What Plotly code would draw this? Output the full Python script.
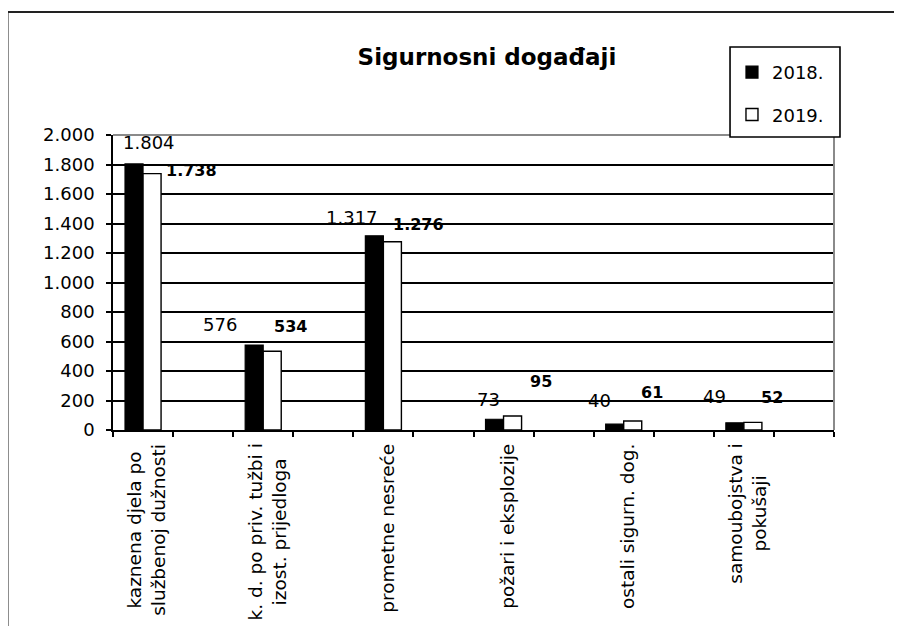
import plotly.graph_objects as go

# ---- data ----
categories = [
    "kaznena djela po<br>službenoj dužnosti",
    "k. d. po priv. tužbi i<br>izost. prijedloga",
    "prometne nesreće",
    "požari i eksplozije",
    "ostali sigurn. dog.",
    "samoubojstva i<br>pokušaji",
]
values_2018 = [1804, 576, 1317, 73, 40, 49]
values_2019 = [1738, 534, 1276, 95, 61, 52]
series_names = ["2018.", "2019."]
y_tick_values = [0, 200, 400, 600, 800, 1000, 1200, 1400, 1600, 1800, 2000]
chart_title = "Sigurnosni događaji"

# ---- presentation (pixel offsets of the value labels from the bar tops) ----
shift_2018 = [(15, 21), (-34, 21), (-22, 18), (-6, 20), (-15, 24), (-20, 26)]
shift_2019 = [(39, 3), (18, 25), (26, 17), (28, 34), (19, 29), (19, 25)]

FONT = "DejaVu Sans"
n = len(categories)
slot = [2 * i for i in range(n)]          # every other slot is empty, as in the original
bar_offset = 0.15                          # half a bar width in axis units

fig = go.Figure()
fig.add_trace(go.Bar(
    x=slot, y=values_2018, name=series_names[0],
    marker=dict(color="black", line=dict(color="black", width=1.2)),
    legendgroup="a",
))
fig.add_trace(go.Bar(
    x=slot, y=values_2019, name=series_names[1],
    marker=dict(color="white", line=dict(color="black", width=1.4)),
    legendgroup="b",
))


def fmt(v):
    return f"{v:,}".replace(",", ".")


annotations = []
for i in range(n):
    dx, dy = shift_2018[i]
    annotations.append(dict(
        x=slot[i] - bar_offset, y=values_2018[i], xref="x", yref="y",
        text=fmt(values_2018[i]), showarrow=False, xanchor="center", yanchor="middle",
        xshift=dx, yshift=dy, font=dict(family=FONT, size=18, color="black"),
    ))
    dx, dy = shift_2019[i]
    annotations.append(dict(
        x=slot[i] + bar_offset, y=values_2019[i], xref="x", yref="y",
        text="<b>" + fmt(values_2019[i]) + "</b>", showarrow=False,
        xanchor="center", yanchor="middle",
        xshift=dx, yshift=dy, font=dict(family=FONT, size=16, color="black"),
    ))
    annotations.append(dict(
        x=slot[i], y=-0.04, xref="x", yref="paper",
        text=categories[i], showarrow=False, textangle=-90, align="center",
        xanchor="center", yanchor="top", xshift=4,
        font=dict(family=FONT, size=18.5, color="black"),
    ))

shapes = [
    # outer chart frame (left and top edges visible)
    dict(type="line", xref="paper", yref="paper", x0=-0.1463, x1=-0.1463, y0=1.417, y1=-0.70,
         line=dict(color="#222222", width=2)),
    dict(type="line", xref="paper", yref="paper", x0=-0.1463, x1=1.12, y0=1.417, y1=1.417,
         line=dict(color="#222222", width=2)),
    # grey plot-area border (top and right)
    dict(type="line", xref="paper", yref="paper", x0=0, x1=1, y0=1, y1=1,
         line=dict(color="#8a8a8a", width=2), layer="above"),
    dict(type="line", xref="paper", yref="paper", x0=1, x1=1, y0=0, y1=1,
         line=dict(color="#8a8a8a", width=2), layer="above"),
    # legend box
    dict(type="rect", xref="paper", yref="paper", x0=0.8558, x1=1.0083, y0=0.9932, y1=1.2983,
         line=dict(color="black", width=1.6), fillcolor="white", layer="above"),
]

fig.update_layout(
    width=902, height=626,
    margin=dict(l=105, r=76, t=127, b=204),
    paper_bgcolor="white", plot_bgcolor="white",
    separators=",.",
    barmode="group", bargap=0.7, bargroupgap=0,
    title=dict(text="<b>" + chart_title + "</b>", x=0.5187, xref="paper", xanchor="center",
               y=0.9217, yref="container", yanchor="middle",
               font=dict(family=FONT, size=23, color="black")),
    showlegend=True,
    legend=dict(x=0.8585, xanchor="left", y=1.275, yanchor="top", xref="paper", yref="paper",
                bgcolor="rgba(0,0,0,0)", borderwidth=0, tracegroupgap=16,
                traceorder="grouped",
                font=dict(family=FONT, size=18, color="black")),
    annotations=annotations,
    shapes=shapes,
    xaxis=dict(range=[-0.5, 2 * n - 0.5], tickmode="array",
               tickvals=[k - 0.5 for k in range(2 * n + 1)],
               showticklabels=False, ticks="outside", ticklen=5, tickwidth=1.5, tickcolor="black",
               showline=True, linecolor="black", linewidth=2, showgrid=False, zeroline=False,
               fixedrange=True),
    yaxis=dict(range=[0, 2000], tickmode="array", tickvals=y_tick_values, tickformat=",d",
               ticks="outside", ticklen=5, tickwidth=1.5, tickcolor="black",
               showline=True, linecolor="black", linewidth=1.5,
               showgrid=True, gridcolor="black", gridwidth=1.6, zeroline=False,
               ticklabelstandoff=8,
               tickfont=dict(family=FONT, size=18, color="black"), fixedrange=True),
)

fig.write_html("out.html")
